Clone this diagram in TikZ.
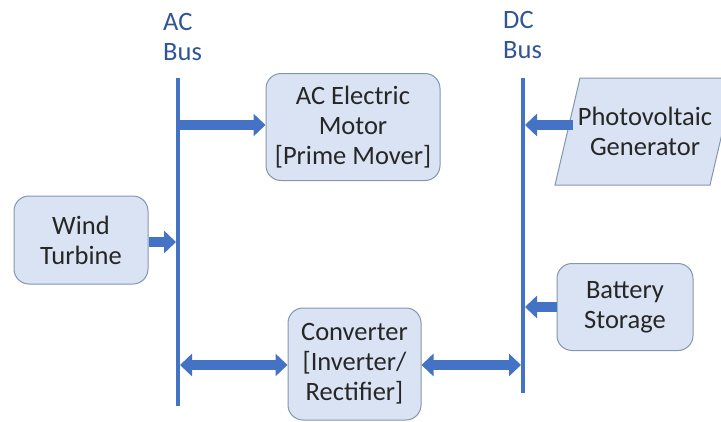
\documentclass[tikz,border=0pt]{standalone}
\usepackage{fontspec}
\setmainfont{Carlito}
\usetikzlibrary{arrows.meta}
\definecolor{boxfill}{HTML}{DAE3F3}
\definecolor{boxline}{HTML}{8497B0}
\definecolor{busblue}{HTML}{4472C4}
\definecolor{lbl}{HTML}{2F5597}
\definecolor{txt}{HTML}{262626}
\tikzset{
  blk/.style={draw=boxline, fill=boxfill, rounded corners=15pt, line width=1pt, text=txt,
    align=center, font=\fontsize{26.5}{30}\selectfont, inner sep=0pt},
  pvtext/.style={text=txt, align=center, font=\fontsize{26.5}{30}\selectfont, inner sep=0pt},
  pvshape/.style={draw=boxline, fill=boxfill, line width=1pt},
  bus/.style={draw=busblue, line width=4pt},
  fat/.style={draw=busblue, line width=10pt, -{Triangle[length=12pt,width=22pt]}},
  fat2/.style={draw=busblue, line width=10pt, {Triangle[length=12pt,width=22pt]}-{Triangle[length=12pt,width=22pt]}},
  buslbl/.style={text=lbl, align=left, font=\fontsize{26.5}{30}\selectfont, anchor=west, inner sep=0pt}
}
\begin{document}
\begin{tikzpicture}[x=1pt,y=-1pt]
\useasboundingbox[fill=white] (0,0) rectangle (721,421);
% buses
\coordinate (acT) at (178,78);
\coordinate (acB) at (178,406);
\coordinate (dcT) at (523,78);
\coordinate (dcB) at (523,393);
\draw[bus] (acT) -- (acB);
\draw[bus] (dcT) -- (dcB);
\node[buslbl] (aclbl) at (163,37) {AC\\Bus};
\node[buslbl] (dclbl) at (503,35) {DC\\Bus};
% boxes
\node[blk, minimum width=174pt, minimum height=107pt] (motor) at (353,127) {AC Electric\\Motor\\{}[Prime Mover]};
\node[blk, minimum width=134pt, minimum height=88pt] (wind) at (81,240) {Wind\\Turbine};
\node[blk, minimum width=133pt, minimum height=112pt] (conv) at (354.5,364) {Converter\\{}[Inverter/\\Rectifier]};
\node[blk, minimum width=136pt, minimum height=87pt] (batt) at (625,307) {Battery\\Storage};
\coordinate (pv1) at (580,78);
\coordinate (pv2) at (735,78);
\coordinate (pv3) at (710,185);
\coordinate (pv4) at (555,185);
\draw[pvshape] (pv1) -- (pv2) -- (pv3) -- (pv4) -- cycle;
\node[pvtext] (pv) at (645,131) {Photovoltaic\\Generator};
% bus tap coordinates
\coordinate (a1) at (180,125);
\coordinate (a2) at (176,242);
\coordinate (a3) at (180,365);
\coordinate (d1) at (525,125);
\coordinate (d2) at (525,307);
\coordinate (d3) at (521,365);
\coordinate (pvl) at (573,125);
% connectors
\draw[fat] (a1) -- (motor.west |- a1);
\draw[fat] (wind.east |- a2) -- (a2);
\draw[fat2] (a3) -- (conv.west |- a3);
\draw[fat2] (conv.east |- d3) -- (d3);
\draw[fat] (pvl) -- (d1);
\draw[fat] (batt.west |- d2) -- (d2);
\end{tikzpicture}
\end{document}
